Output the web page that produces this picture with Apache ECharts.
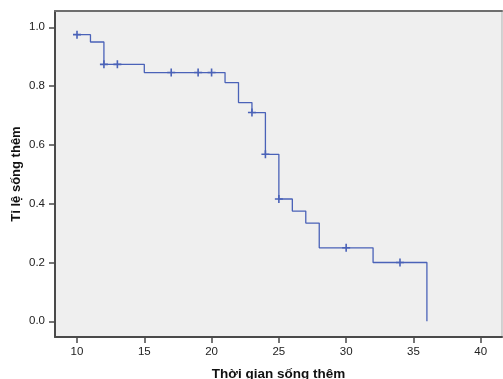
<!DOCTYPE html>
<html>
<head>
<meta charset="utf-8">
<script src="https://cdn.jsdelivr.net/npm/echarts@6/dist/echarts.min.js"></script>
<style>
html,body{margin:0;padding:0;background:#fff;}
#c{width:503px;height:379px;}
</style>
</head>
<body>
<div id="c"></div>
<script>
// Kaplan-Meier step points (time, survival)
const stepTimes = [10, 11, 12, 15, 21, 22, 23, 24, 25, 26, 27, 28, 32, 36];
const stepSurvival = [0.975, 0.95, 0.874, 0.846, 0.812, 0.744, 0.710, 0.568, 0.416, 0.375, 0.334, 0.250, 0.200, 0.0];
// Censored observations
const censorTimes = [10, 12, 13, 17, 19, 20, 23, 24, 25, 30, 34];
const censorSurvival = [0.975, 0.874, 0.874, 0.846, 0.846, 0.846, 0.710, 0.568, 0.416, 0.250, 0.200];
// Tick labels
const xTicks = [10, 15, 20, 25, 30, 35, 40];
const yTicks = [0.0, 0.2, 0.4, 0.6, 0.8, 1.0];
const xTitle = 'Thời gian sống thêm';
const yTitle = 'Tỉ lệ sống thêm';

const lineColor = '#4a62b8';
const font = 'Liberation Sans, Arial, sans-serif';

const chart = echarts.init(document.getElementById('c'), null, {renderer: 'canvas'});
const xMin = 8.365, xMax = 41.58, yMin = -0.0534, yMax = 1.0554;

chart.setOption({
  animation: false,
  backgroundColor: '#ffffff',
  grid: {left: 55, top: 11, right: 1, bottom: 42, show: true, backgroundColor: '#efefef', borderWidth: 0,
    containLabel: false, outerBoundsMode: 'none'},
  xAxis: [{
    type: 'value', min: xMin, max: xMax, position: 'bottom',
    name: xTitle, nameLocation: 'middle', nameGap: 30, nameMoveOverlap: false,
    nameTextStyle: {fontFamily: font, fontWeight: 'bold', fontSize: 13.5, color: '#111'},
    axisLine: {show: true, onZero: false, lineStyle: {color: '#4a4a4a', width: 2}},
    axisTick: {show: true, length: 6, customValues: xTicks, lineStyle: {color: '#4a4a4a', width: 1.5}},
    axisLabel: {customValues: xTicks, fontFamily: font, fontSize: 11.5, color: '#222', margin: 9},
    splitLine: {show: false}
  }, {
    type: 'value', min: xMin, max: xMax, position: 'top',
    axisLine: {show: true, onZero: false, lineStyle: {color: '#6e6e6e', width: 2}},
    axisTick: {show: false}, axisLabel: {show: false}, splitLine: {show: false}
  }],
  yAxis: [{
    type: 'value', min: yMin, max: yMax, position: 'left',
    name: yTitle, nameLocation: 'middle', nameGap: 32, nameRotate: 90, nameMoveOverlap: false,
    nameTextStyle: {fontFamily: font, fontWeight: 'bold', fontSize: 13, color: '#111'},
    axisLine: {show: true, onZero: false, lineStyle: {color: '#4a4a4a', width: 2}},
    axisTick: {show: true, length: 6, customValues: yTicks, lineStyle: {color: '#4a4a4a', width: 1.5}},
    axisLabel: {customValues: yTicks, fontFamily: font, fontSize: 11.5, color: '#222', margin: 10,
      formatter: v => v.toFixed(1)},
    splitLine: {show: false}
  }, {
    type: 'value', min: yMin, max: yMax, position: 'right',
    axisLine: {show: true, onZero: false, lineStyle: {color: '#c4c4c4', width: 1.5}},
    axisTick: {show: false}, axisLabel: {show: false}, splitLine: {show: false}
  }],
  series: [{
    type: 'line', step: 'end', xAxisIndex: 0, yAxisIndex: 0,
    data: stepTimes.map((t, i) => [t, stepSurvival[i]]),
    showSymbol: false, symbol: 'none',
    lineStyle: {color: lineColor, width: 1.3}
  }, {
    type: 'scatter', xAxisIndex: 0, yAxisIndex: 0,
    data: censorTimes.map((t, i) => [t, censorSurvival[i]]),
    symbol: 'path://M3.2,0h1.6v8h-1.6zM0,3.2h8v1.6h-8z',
    symbolSize: [8, 8],
    itemStyle: {color: lineColor, opacity: 1}
  }]
});
</script>
</body>
</html>
